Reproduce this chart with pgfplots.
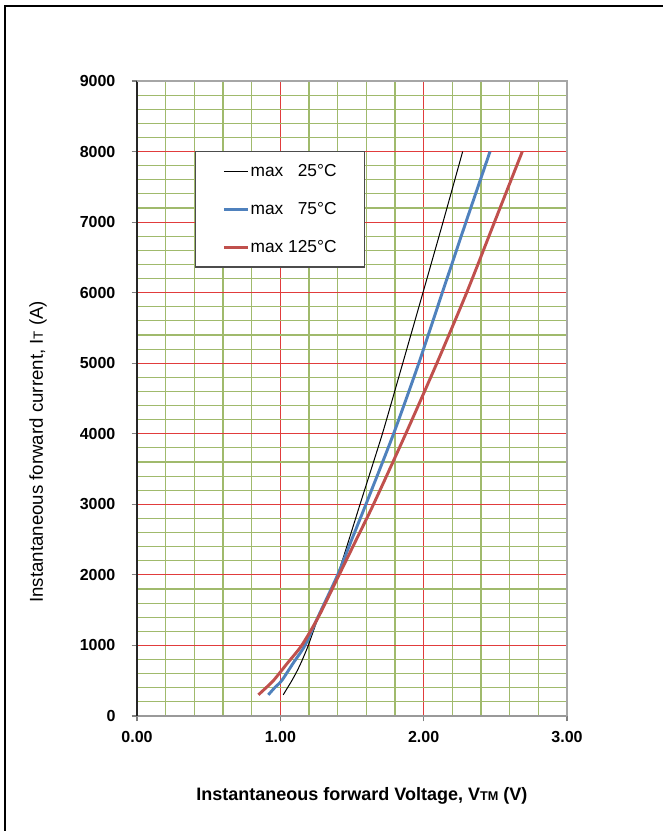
\documentclass[border=0pt]{standalone}
\usepackage{pgfplots}
\pgfplotsset{compat=1.18}
\usepackage{fontspec}
\setmainfont{Liberation Sans}

\definecolor{gridgreen}{RGB}{160,186,108}
\definecolor{gridred}{RGB}{225,60,60}
\definecolor{xlblue}{RGB}{79,129,189}
\definecolor{xlred}{RGB}{192,80,77}

\begin{document}
\begin{tikzpicture}[x=0.75pt,y=0.75pt]
\useasboundingbox (0,0) rectangle (663,831);
% page frame (only left and top edges show)
\draw[line width=1.6pt] (5,-5) -- (5,825) -- (670,825);

\begin{axis}[
    at={(102.75pt,86.25pt)}, anchor=south west,
    scale only axis, width=322.5pt, height=476.25pt,
    xmin=0, xmax=3, ymin=0, ymax=9000,
    axis x line*=bottom, axis y line*=left,
    x axis line style={-, draw=gray!80, line width=2pt},
    y axis line style={-, draw=black!85, line width=1.2pt},
    xtick={0,1,2,3}, xticklabels={0.00,1.00,2.00,3.00},
    ytick={0,1000,...,9000},
    yticklabels={0,1000,2000,3000,4000,5000,6000,7000,8000,9000},
    minor x tick num=4, minor y tick num=4,
    tick align=outside, major tick length=4pt, minor tick length=0pt,
    tick style={draw=gray, line width=0.8pt},
    grid=both,
    minor grid style={draw=gridgreen, line width=0.8pt},
    major grid style={draw=gridred, line width=0.8pt},
    ticklabel style={font=\fontsize{12}{14}\selectfont\bfseries},
    yticklabel style={inner sep=0pt, xshift=-12pt},
    xticklabel style={inner sep=0pt, yshift=-7pt},
    xlabel={Instantaneous forward Voltage, V{\fontsize{9.5}{11}\selectfont TM} (V)},
    ylabel={Instantaneous forward current, I{\fontsize{10}{12}\selectfont T} (A)},
    xlabel style={font=\fontsize{13.5}{15}\selectfont\bfseries, at={(axis description cs:0.523,-0.126)}, anchor=center},
    ylabel style={font=\fontsize{14}{16}\selectfont, at={(axis description cs:-0.230,0.416)}, anchor=center, rotate=0},
    legend style={at={(rel axis cs:0.135,0.890)}, anchor=north west,
        draw=black!70, line width=0.9pt, fill=white,
        inner xsep=20pt, inner ysep=8.5pt, row sep=16pt,
        font=\fontsize{13}{15}\selectfont,
        nodes={inner sep=1pt}},
    legend cell align=left,
    legend image code/.code={\draw[#1] (0pt,0pt) -- (18pt,0pt);},
    clip=false,
]
\addplot[black, line width=0.75pt, smooth, tension=0.3] coordinates {
    (1.02,300) (1.05,400) (1.08,500) (1.12,650) (1.15,780)
    (1.195,1000) (1.265,1400) (1.335,1700) (1.40,2000) (1.479,2500)
    (1.556,3000) (1.712,4000) (1.854,5000) (1.995,6000) (2.135,7000)
    (2.272,8000)
};
\addlegendentry{max\makebox[3.07em][r]{25°C}}
\addplot[xlblue, line width=2.2pt, smooth, tension=0.4] coordinates {
    (0.916,300) (0.96,400) (1.009,500) (1.09,750) (1.172,1000)
    (1.262,1400) (1.40,2000) (1.498,2500) (1.597,3000) (1.79,4000)
    (1.966,5000) (2.13,6000) (2.295,7000) (2.463,8000)
};
\addlegendentry{max\makebox[3.07em][r]{75°C}}
\addplot[xlred, line width=2.2pt, smooth, tension=0.4] coordinates {
    (0.847,300) (0.90,400) (0.951,500) (1.05,750) (1.149,1000)
    (1.265,1400) (1.41,2000) (1.53,2500) (1.65,3000) (1.875,4000)
    (2.092,5000) (2.30,6000) (2.494,7000) (2.688,8000)
};
\addlegendentry{max\makebox[3.07em][r]{125°C}}
\draw[gray!70, line width=0.8pt] (rel axis cs:0,1) -- (rel axis cs:1,1) -- (rel axis cs:1,0);
\end{axis}
\end{tikzpicture}
\end{document}
